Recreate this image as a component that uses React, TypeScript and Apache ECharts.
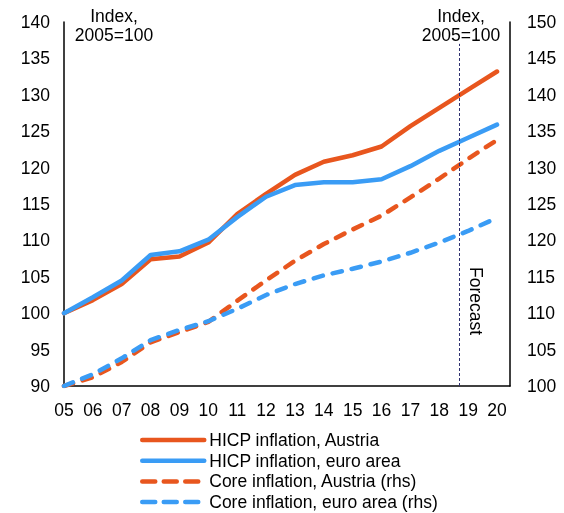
import React, { useEffect, useRef } from "react";
import * as echarts from "echarts";

const years = ["05", "06", "07", "08", "09", "10", "11", "12", "13", "14", "15", "16", "17", "18", "19", "20"];
const hicpAustria = [100, 101.8, 104.0, 107.4, 107.8, 109.7, 113.6, 116.4, 119.0, 120.8, 121.7, 122.9, 125.7, 128.2, 130.7, 133.2];
const hicpEuro = [100, 102.2, 104.5, 108.0, 108.5, 110.1, 113.2, 116.0, 117.6, 118.0, 118.0, 118.4, 120.2, 122.3, 124.1, 125.9];
const coreAustria = [100, 101.2, 103.3, 106.0, 107.4, 108.8, 111.7, 114.5, 117.2, 119.5, 121.5, 123.4, 125.9, 128.5, 131.2, 133.8];
const coreEuro = [100, 101.6, 103.8, 106.3, 107.7, 108.9, 110.6, 112.5, 114.0, 115.2, 116.1, 117.1, 118.3, 119.7, 121.3, 123.1];
const seriesNames = [
  "HICP inflation, Austria",
  "HICP inflation, euro area",
  "Core inflation, Austria (rhs)",
  "Core inflation, euro area (rhs)",
];
const leftTicks = { min: 90, max: 140, step: 5 };
const rightTicks = { min: 100, max: 150, step: 5 };
const forecastAt = 13.7;

const ORANGE = "#E8561E";
const BLUE = "#3A9CF5";
const FONT = "Liberation Sans";

export default function App() {
  const ref = useRef<HTMLDivElement>(null);
  useEffect(() => {
    const chart = echarts.init(ref.current!, undefined, { renderer: "svg" });
    const toPairs = (arr: number[]) => arr.map((v, i) => [i, v]);
    const mk = (name: string, data: number[], color: string, dashed: boolean, yAxisIndex: number) => ({
      name,
      type: "line",
      yAxisIndex,
      data: toPairs(data),
      showSymbol: false,
      symbol: "none",
      lineStyle: { color, width: 4.5, type: dashed ? [9.5, 10] : "solid", cap: "round" },
      itemStyle: { color },
      z: dashed ? 2 : 3,
    });
    const s1: any = mk(seriesNames[0], hicpAustria, ORANGE, false, 0);
    s1.markLine = {
      silent: true,
      symbol: "none",
      label: { show: false },
      lineStyle: { color: "#2F3170", width: 1, type: [3, 2] },
      data: [[{ coord: [forecastAt, 90] }, { coord: [forecastAt, 137] }]],
    };
    const legendDash = { type: [13, 8.5], cap: "round", width: 4.5 };
    chart.setOption({
      animation: false,
      textStyle: { fontFamily: FONT },
      grid: { left: 64, right: 54, top: 22, bottom: 127 },
      xAxis: {
        type: "value",
        min: 0,
        max: 15.45,
        interval: 1,
        axisLine: { show: true, lineStyle: { color: "#000", width: 1.5 } },
        axisTick: { show: false },
        splitLine: { show: false },
        axisLabel: {
          color: "#000",
          fontSize: 17.5,
          margin: 15,
          fontFamily: FONT,
          showMaxLabel: false,
          formatter: (v: number) => (Number.isInteger(v) && years[v] !== undefined ? years[v] : ""),
        },
      },
      yAxis: [
        {
          type: "value",
          min: leftTicks.min,
          max: leftTicks.max,
          interval: leftTicks.step,
          axisLine: { show: true, lineStyle: { color: "#000", width: 1.5 } },
          axisTick: { show: false },
          splitLine: { show: false },
          axisLabel: { color: "#000", fontSize: 17.5, margin: 14, fontFamily: FONT },
        },
        {
          type: "value",
          position: "right",
          min: rightTicks.min,
          max: rightTicks.max,
          interval: rightTicks.step,
          axisLine: { show: true, lineStyle: { color: "#000", width: 1.5 } },
          axisTick: { show: false },
          splitLine: { show: false },
          axisLabel: { color: "#000", fontSize: 17.5, margin: 17, fontFamily: FONT },
        },
      ],
      legend: {
        orient: "vertical",
        left: 135,
        top: 426,
        height: 90,
        itemWidth: 62,
        itemHeight: 12,
        itemGap: 2.7,
        itemStyle: { opacity: 0 },
        lineStyle: { width: 4.5, cap: "round" },
        textStyle: { color: "#000", fontSize: 17.5, lineHeight: 18, fontFamily: FONT },
        data: [
          { name: seriesNames[0] },
          { name: seriesNames[1] },
          { name: seriesNames[2], lineStyle: legendDash },
          { name: seriesNames[3], lineStyle: legendDash },
        ],
      },
      graphic: [
        {
          type: "text",
          x: 114,
          y: 6,
          style: { text: "Index,\n2005=100", fill: "#000", font: `17.5px "${FONT}"`, align: "center", lineHeight: 19 },
        },
        {
          type: "text",
          x: 461,
          y: 6,
          style: { text: "Index,\n2005=100", fill: "#000", font: `17.5px "${FONT}"`, align: "center", lineHeight: 19 },
        },
        {
          type: "text",
          x: 485,
          y: 267,
          rotation: -Math.PI / 2,
          style: { text: "Forecast", fill: "#000", font: `17.5px "${FONT}"` },
        },
      ],
      series: [
        s1,
        mk(seriesNames[1], hicpEuro, BLUE, false, 0),
        mk(seriesNames[2], coreAustria, ORANGE, true, 1),
        mk(seriesNames[3], coreEuro, BLUE, true, 1),
      ],
    });
    return () => chart.dispose();
  }, []);
  return <div ref={ref} style={{ position: "fixed", left: 0, top: 0, width: 564, height: 513 }} />;
}
